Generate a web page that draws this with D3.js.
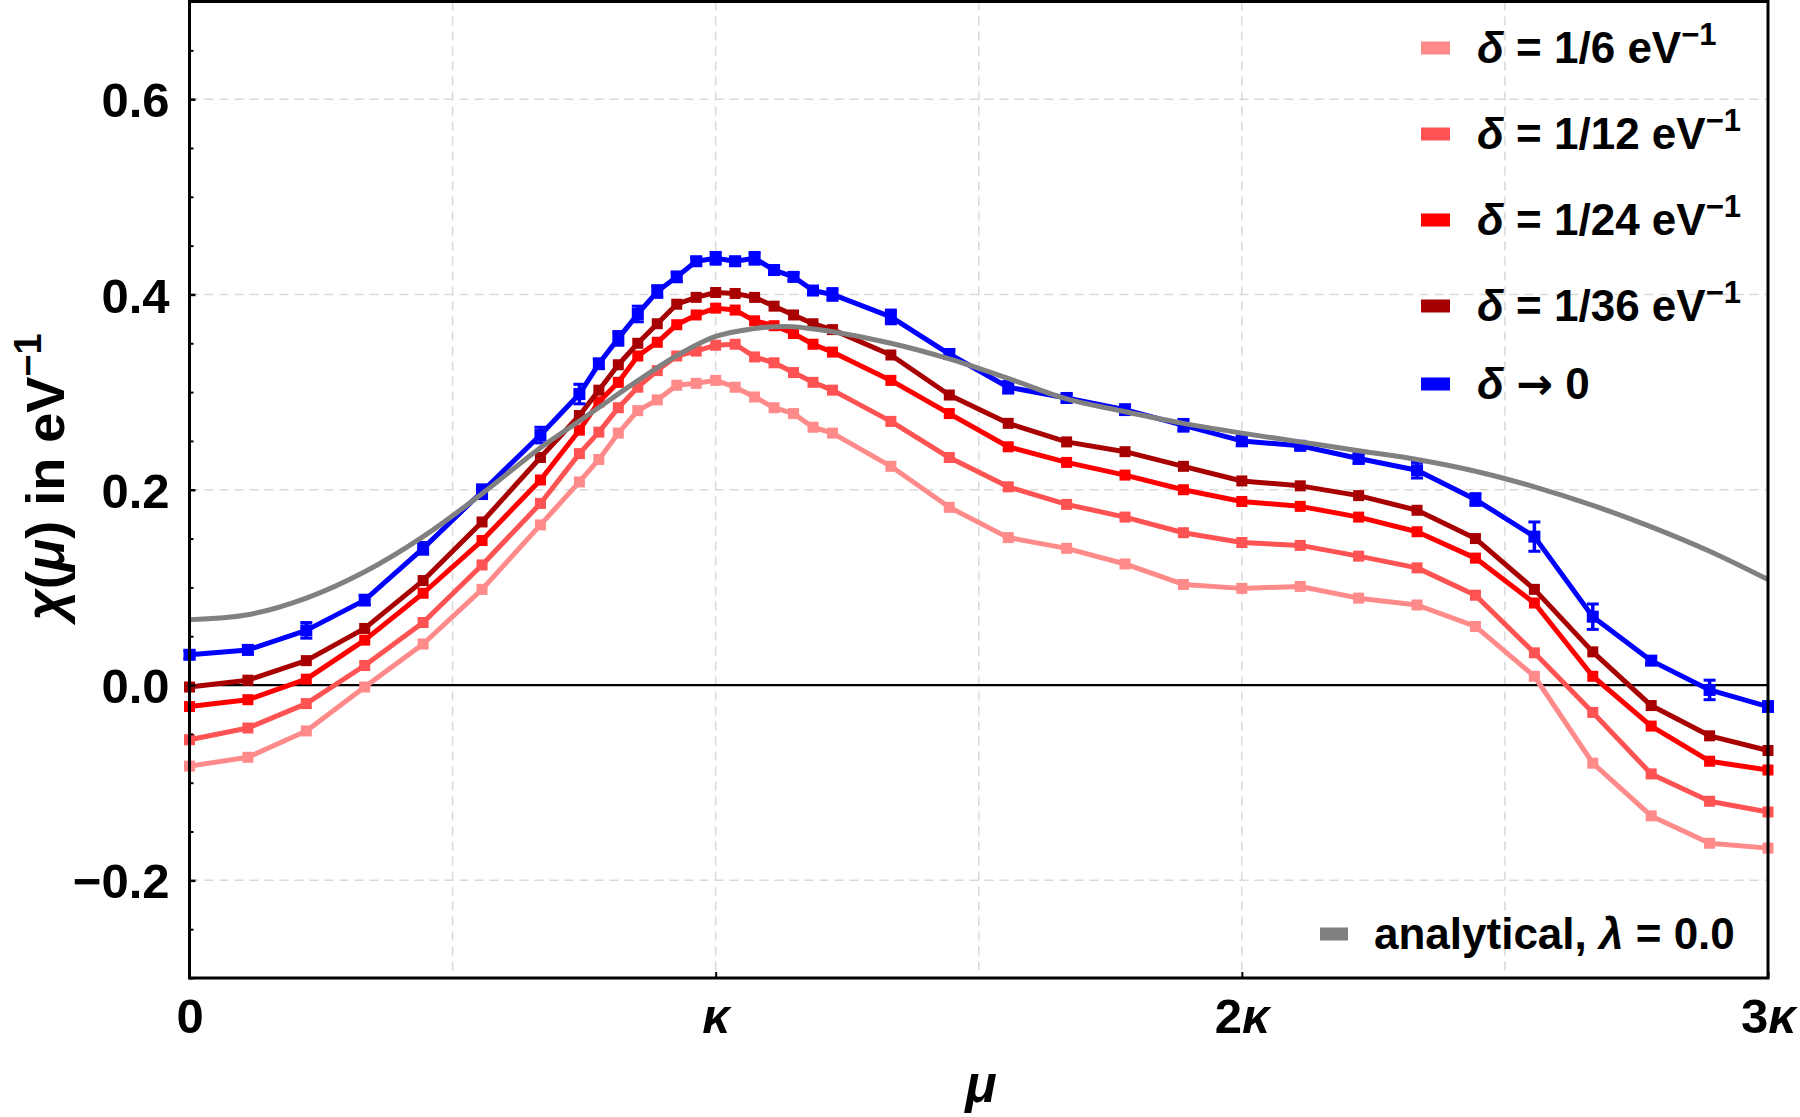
<!DOCTYPE html>
<html>
<head>
<meta charset="utf-8">
<script src="https://cdn.jsdelivr.net/npm/d3@7"></script>
<style>
body { margin: 0; background: #fff; }
text { font-family: "Liberation Sans", Arial, sans-serif; font-weight: bold; fill: #000; }
</style>
</head>
<body>
<svg id="chart" width="1800" height="1117"></svg>
<script>
// mu in units of kappa
var mu = [0, 0.111, 0.222, 0.333, 0.444, 0.556, 0.667, 0.741, 0.778, 0.815, 0.852, 0.889, 0.926, 0.963,
  1.0, 1.037, 1.074, 1.111, 1.148, 1.185, 1.222, 1.333, 1.444, 1.556, 1.667, 1.778, 1.889, 2.0,
  2.111, 2.222, 2.333, 2.444, 2.556, 2.667, 2.778, 2.889, 3.0]

var chi6 = [-0.083, -0.074, -0.047, -0.002, 0.042, 0.098, 0.164, 0.208, 0.231, 0.258, 0.281, 0.292, 0.307, 0.309,
  0.312, 0.305, 0.295, 0.284, 0.278, 0.264, 0.258, 0.224, 0.182, 0.151, 0.140, 0.124, 0.103, 0.099,
  0.101, 0.089, 0.082, 0.060, 0.009, -0.080, -0.134, -0.162, -0.167]
var chi12 = [-0.056, -0.044, -0.019, 0.020, 0.064, 0.123, 0.186, 0.237, 0.259, 0.284, 0.305, 0.322, 0.337, 0.342,
  0.348, 0.349, 0.336, 0.330, 0.320, 0.310, 0.302, 0.270, 0.233, 0.203, 0.185, 0.172, 0.156, 0.146,
  0.143, 0.132, 0.120, 0.092, 0.033, -0.028, -0.091, -0.119, -0.130]
var chi24 = [-0.022, -0.015, 0.006, 0.046, 0.094, 0.148, 0.210, 0.261, 0.290, 0.310, 0.337, 0.351, 0.369, 0.379,
  0.386, 0.384, 0.373, 0.368, 0.360, 0.349, 0.341, 0.312, 0.278, 0.244, 0.228, 0.215, 0.200, 0.188,
  0.183, 0.172, 0.157, 0.130, 0.084, 0.009, -0.042, -0.078, -0.087]
var chi36 = [-0.002, 0.005, 0.025, 0.058, 0.107, 0.167, 0.233, 0.276, 0.302, 0.328, 0.350, 0.370, 0.390, 0.397,
  0.402, 0.401, 0.397, 0.388, 0.379, 0.370, 0.364, 0.338, 0.297, 0.268, 0.249, 0.239, 0.224, 0.209,
  0.204, 0.194, 0.179, 0.150, 0.098, 0.034, -0.021, -0.052, -0.067]
var chi0 = [0.031, 0.036, 0.056, 0.087, 0.140, 0.198, 0.256, 0.298, 0.329, 0.355, 0.380, 0.403, 0.418, 0.434,
  0.437, 0.434, 0.437, 0.425, 0.418, 0.404, 0.400, 0.377, 0.339, 0.305, 0.294, 0.282, 0.266, 0.250,
  0.245, 0.232, 0.220, 0.190, 0.152, 0.070, 0.025, -0.005, -0.022]
var err0 = [0.004, 0.004, 0.008, 0.005, 0.006, 0.007, 0.008, 0.010, 0.005, 0.007, 0.008, 0.006, 0.005, 0.004,
  0.006, 0.004, 0.006, 0.004, 0.004, 0.004, 0.006, 0.007, 0.004, 0.006, 0.004, 0.005, 0.006, 0.005,
  0.004, 0.005, 0.008, 0.006, 0.015, 0.013, 0.004, 0.010, 0.005]

// analytical curve, lambda = 0
var muAn = [0, 0.111, 0.222, 0.333, 0.444, 0.556, 0.667, 0.74, 0.78, 0.85, 0.925, 1.0, 1.073, 1.11,
  1.147, 1.22, 1.333, 1.444, 1.556, 1.667, 1.778, 1.889, 2.0, 2.111, 2.222, 2.333, 2.444,
  2.556, 2.667, 2.778, 2.889, 3.0]
var chiAn = [0.067, 0.072, 0.089, 0.116, 0.152, 0.196, 0.243, 0.270, 0.285, 0.311, 0.337, 0.357, 0.365, 0.367,
  0.367, 0.362, 0.350, 0.334, 0.314, 0.293, 0.280, 0.268, 0.258, 0.249, 0.240, 0.231, 0.219,
  0.203, 0.184, 0.162, 0.137, 0.108]

var names = ['1/6', '1/12', '1/24', '1/36']
var colors = ['#ff8a8a', '#ff5252', '#ff0000', '#a80000']
var blue = '#0000ff', gray = '#808080'

var yMajor = [-0.2, 0, 0.2, 0.4, 0.6]
var yMinor = [-0.3, -0.25, -0.15, -0.1, -0.05, 0.05, 0.1, 0.15, 0.25, 0.3, 0.35, 0.45, 0.5, 0.55, 0.65, 0.7]
var xMajor = [0, 1, 2, 3]
var xLabels = ['0', 'κ', '2κ', '3κ']
var xGrid = [0.5, 1, 1.5, 2, 2.5]
var yGrid = [-0.2, 0.2, 0.4, 0.6]

var svg = d3.select('#chart')
var L = 189.5, R = 1768, T = 1.5, B = 978

var x = d3.scaleLinear().domain([0, 3]).range([L, R])
var y = d3.scaleLinear().domain([-0.3, 0.7]).range([B, T])

// grid
var grid = svg.append('g')
grid.selectAll('.gx').data(xGrid).enter().append('line')
    .attr('x1', d => x(d)).attr('x2', d => x(d)).attr('y1', T).attr('y2', B)
    .attr('stroke', '#d9d9d9').attr('stroke-width', 1.5).attr('stroke-dasharray', '9,6')
grid.selectAll('.gy').data(yGrid).enter().append('line')
    .attr('x1', L).attr('x2', R).attr('y1', d => y(d)).attr('y2', d => y(d))
    .attr('stroke', '#d9d9d9').attr('stroke-width', 1.5).attr('stroke-dasharray', '9,6')

// zero line
svg.append('line').attr('x1', L).attr('x2', R).attr('y1', y(0)).attr('y2', y(0))
    .attr('stroke', '#000').attr('stroke-width', 2.2)

// series
var line = d3.line().x(d => x(d[0])).y(d => y(d[1]))
var series = [chi6, chi12, chi24, chi36]
series.forEach(function(vals, i) {
    var pts = mu.map((m, j) => [m, vals[j]])
    svg.append('path').datum(pts).attr('d', line)
        .attr('fill', 'none').attr('stroke', colors[i]).attr('stroke-width', 5).attr('stroke-linejoin', 'round')
    svg.selectAll('.m' + i).data(pts).enter().append('rect')
        .attr('x', d => x(d[0]) - 5.5).attr('y', d => y(d[1]) - 5.5)
        .attr('width', 11).attr('height', 11).attr('fill', colors[i])
})

var bpts = mu.map((m, j) => [m, chi0[j], err0[j]])
svg.append('path').datum(bpts).attr('d', line)
    .attr('fill', 'none').attr('stroke', blue).attr('stroke-width', 5).attr('stroke-linejoin', 'round')
var eb = svg.selectAll('.eb').data(bpts).enter().append('g')
eb.append('line').attr('x1', d => x(d[0])).attr('x2', d => x(d[0]))
    .attr('y1', d => y(d[1] - d[2])).attr('y2', d => y(d[1] + d[2]))
    .attr('stroke', blue).attr('stroke-width', 3.5)
eb.append('line').attr('x1', d => x(d[0]) - 6).attr('x2', d => x(d[0]) + 6)
    .attr('y1', d => y(d[1] + d[2])).attr('y2', d => y(d[1] + d[2]))
    .attr('stroke', blue).attr('stroke-width', 3)
eb.append('line').attr('x1', d => x(d[0]) - 6).attr('x2', d => x(d[0]) + 6)
    .attr('y1', d => y(d[1] - d[2])).attr('y2', d => y(d[1] - d[2]))
    .attr('stroke', blue).attr('stroke-width', 3)
eb.append('rect').attr('x', d => x(d[0]) - 6).attr('y', d => y(d[1]) - 6)
    .attr('width', 12).attr('height', 12).attr('fill', blue)

// analytical
var curve = d3.line().x(d => x(d[0])).y(d => y(d[1])).curve(d3.curveCatmullRom.alpha(0.5))
svg.append('path').datum(muAn.map((m, j) => [m, chiAn[j]]))
    .attr('d', curve)
    .attr('fill', 'none').attr('stroke', gray).attr('stroke-width', 5)

// frame
svg.append('rect').attr('x', L).attr('y', T).attr('width', R - L).attr('height', B - T)
    .attr('fill', 'none').attr('stroke', '#000').attr('stroke-width', 3)

// axes
var yAxis = svg.append('g').attr('transform', 'translate(' + L + ',0)')
    .call(d3.axisLeft(y).tickValues(yMajor).tickSize(-6).tickPadding(20).tickFormat(d3.format('.1f')))
yAxis.select('.domain').remove()
yAxis.selectAll('line').attr('stroke-width', 2.5)
yAxis.selectAll('text').style('font-size', '49px').attr('dy', '0.36em')
var yMin = svg.append('g').attr('transform', 'translate(' + L + ',0)')
    .call(d3.axisLeft(y).tickValues(yMinor).tickSize(-4).tickFormat(''))
yMin.select('.domain').remove()
yMin.selectAll('line').attr('stroke-width', 2)

var xAxis = svg.append('g').attr('transform', 'translate(0,' + B + ')')
    .call(d3.axisBottom(x).tickValues(xMajor).tickSize(-6).tickPadding(20).tickFormat(''))
xAxis.select('.domain').remove()
xAxis.selectAll('line').attr('stroke-width', 2)
xAxis.selectAll('text').each(function(d, i) {
    var t = d3.select(this).style('font-size', '49px').attr('dy', '0.71em')
    var s = xLabels[i]
    if (s.length > 1) t.append('tspan').text(s.slice(0, -1))
    if (s.endsWith('κ')) t.append('tspan').style('font-style', 'italic').text('κ')
    else t.append('tspan').text(s)
})

// labels with superscripts
function rich(g, parts, size) {
    var t = g.append('text').style('font-size', size + 'px')
    parts.forEach(function(p) {
        var s = t.append('tspan').text(p.t)
        if (p.it) s.style('font-style', 'italic')
        if (p.fam) s.style('font-family', p.fam)
        if (p.sup) s.style('font-size', Math.round(size * 0.7) + 'px').attr('dy', -Math.round(size * 0.42))
    })
    return t
}

var yl = svg.append('g').attr('transform', 'translate(64,477) rotate(-90)')
rich(yl, [{t: 'χ', it: true}, {t: '('}, {t: 'μ', it: true}, {t: ') in eV'}, {t: '−1', sup: true}], 54)
    .attr('text-anchor', 'middle')
rich(svg.append('g').attr('transform', 'translate(981,1102)'), [{t: 'μ', it: true}], 52)
    .attr('text-anchor', 'middle')

// legend
var legY = [48, 134, 220, 306]
names.forEach(function(n, i) {
    var g = svg.append('g').attr('transform', 'translate(0,' + legY[i] + ')')
    g.append('rect').attr('x', 1421).attr('y', -6.5).attr('width', 29).attr('height', 13).attr('fill', colors[i])
    rich(g, [{t: 'δ', it: true}, {t: ' = ' + n + ' eV'}, {t: '−1', sup: true}], 44).attr('x', 1477).attr('y', 15)
})
var g5 = svg.append('g').attr('transform', 'translate(0,384)')
g5.append('rect').attr('x', 1421).attr('y', -6.5).attr('width', 29).attr('height', 13).attr('fill', blue)
rich(g5, [{t: 'δ', it: true}, {t: ' '}, {t: '→', fam: '"DejaVu Sans"'}, {t: ' 0'}], 44).attr('x', 1477).attr('y', 15)

var g6 = svg.append('g').attr('transform', 'translate(0,934)')
g6.append('rect').attr('x', 1320).attr('y', -6.5).attr('width', 28).attr('height', 13).attr('fill', gray)
rich(g6, [{t: 'analytical, '}, {t: 'λ', it: true}, {t: ' = 0.0'}], 44).attr('x', 1374).attr('y', 15)
</script>
</body>
</html>
